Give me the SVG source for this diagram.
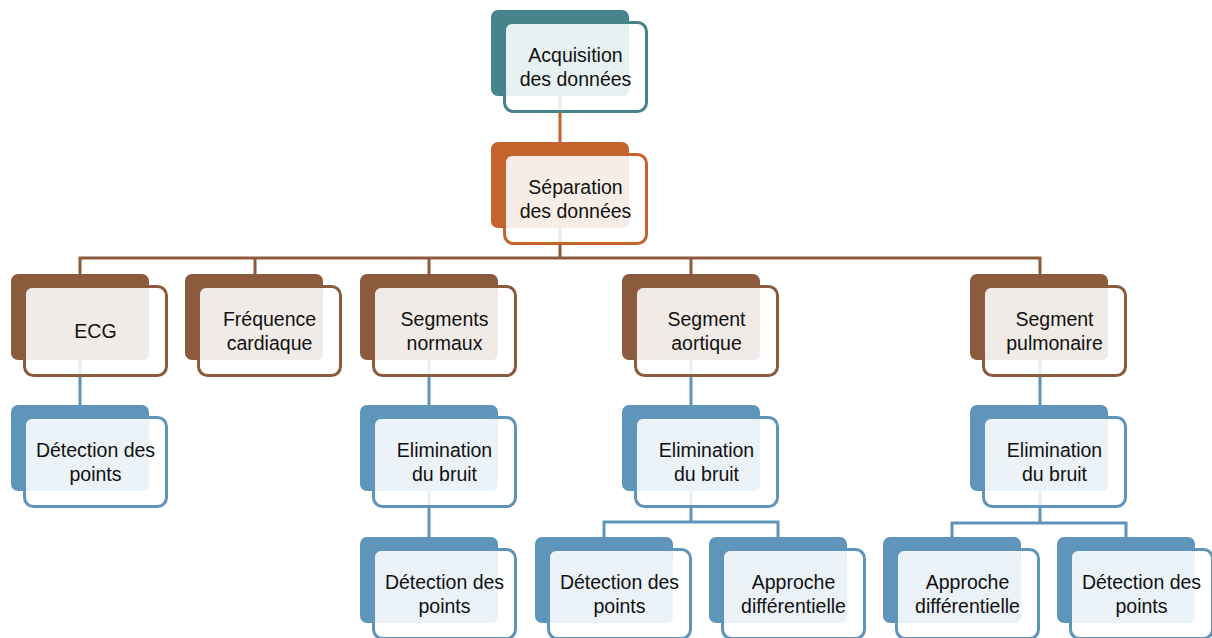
<svg xmlns="http://www.w3.org/2000/svg" width="1212" height="638" viewBox="0 0 1212 638">
  <style>
    .back { stroke: none; }
    .frame { fill: #ffffff; fill-opacity: 0.85; stroke-width: 3; }
    .face { stroke: none; fill-opacity: 0.92; }
    .lbl { font-family: "Liberation Sans", Arial, sans-serif; font-size: 19.5px; fill: #111111; text-anchor: middle; }
    .teal .back { fill: #47838A; } .teal .frame { stroke: #47838A; } .teal .face { fill: #E8F1F1; }
    .orange .back { fill: #C5632D; } .orange .frame { stroke: #C5632D; } .orange .face { fill: #F6ECE6; }
    .brown .back { fill: #8C5B3D; } .brown .frame { stroke: #8C5B3D; } .brown .face { fill: #F1EBE8; }
    .blue .back { fill: #5F95BA; } .blue .frame { stroke: #5F95BA; } .blue .face { fill: #ECF2F7; }
    .conn { fill: none; stroke-width: 3; }
  </style>

  <!-- connectors -->
  <g id="connectors">
    <path class="conn" stroke="#C5632D" d="M560 96 V142"/>
    <path class="conn" stroke="#8C5B3D" d="M560 227 V258 M80 274 V258 H1040 V274 M255 258 V274 M429 258 V274 M691 258 V274"/>
    <path class="conn" stroke="#5F95BA" d="M80 359 V405 M429 359 V405 M691 359 V405 M1040 359 V405"/>
    <path class="conn" stroke="#5F95BA" d="M429 491 V537 M691 491 V522 M604 537 V522 H778 V537 M1040 491 V523 M952 537 V523 H1126 V537"/>
  </g>

  <!-- root -->
  <g id="acquisition" class="teal" transform="translate(491,10)">
    <rect class="back" width="138" height="86" rx="7"/>
    <rect class="frame" x="13.5" y="12.5" width="142" height="89" rx="9"/>
    <rect class="face" x="15" y="14" width="123" height="72" rx="6"/>
    <text class="lbl" x="84.5" y="51.5">Acquisition</text>
    <text class="lbl" x="84.5" y="75.5">des données</text>
  </g>

  <g id="separation" class="orange" transform="translate(491,142)">
    <rect class="back" width="138" height="86" rx="7"/>
    <rect class="frame" x="13.5" y="12.5" width="142" height="89" rx="9"/>
    <rect class="face" x="15" y="14" width="123" height="72" rx="6"/>
    <text class="lbl" x="84.5" y="51.5">Séparation</text>
    <text class="lbl" x="84.5" y="75.5">des données</text>
  </g>

  <!-- second level -->
  <g id="ecg" class="brown" transform="translate(11,274)">
    <rect class="back" width="138" height="86" rx="7"/>
    <rect class="frame" x="13.5" y="12.5" width="142" height="89" rx="9"/>
    <rect class="face" x="15" y="14" width="123" height="72" rx="6"/>
    <text class="lbl" x="84.5" y="63.5">ECG</text>
  </g>

  <g id="frequence" class="brown" transform="translate(185,274)">
    <rect class="back" width="138" height="86" rx="7"/>
    <rect class="frame" x="13.5" y="12.5" width="142" height="89" rx="9"/>
    <rect class="face" x="15" y="14" width="123" height="72" rx="6"/>
    <text class="lbl" x="84.5" y="51.5">Fréquence</text>
    <text class="lbl" x="84.5" y="75.5">cardiaque</text>
  </g>

  <g id="segments-normaux" class="brown" transform="translate(360,274)">
    <rect class="back" width="138" height="86" rx="7"/>
    <rect class="frame" x="13.5" y="12.5" width="142" height="89" rx="9"/>
    <rect class="face" x="15" y="14" width="123" height="72" rx="6"/>
    <text class="lbl" x="84.5" y="51.5">Segments</text>
    <text class="lbl" x="84.5" y="75.5">normaux</text>
  </g>

  <g id="segment-aortique" class="brown" transform="translate(622,274)">
    <rect class="back" width="138" height="86" rx="7"/>
    <rect class="frame" x="13.5" y="12.5" width="142" height="89" rx="9"/>
    <rect class="face" x="15" y="14" width="123" height="72" rx="6"/>
    <text class="lbl" x="84.5" y="51.5">Segment</text>
    <text class="lbl" x="84.5" y="75.5">aortique</text>
  </g>

  <g id="segment-pulmonaire" class="brown" transform="translate(970,274)">
    <rect class="back" width="138" height="86" rx="7"/>
    <rect class="frame" x="13.5" y="12.5" width="142" height="89" rx="9"/>
    <rect class="face" x="15" y="14" width="123" height="72" rx="6"/>
    <text class="lbl" x="84.5" y="51.5">Segment</text>
    <text class="lbl" x="84.5" y="75.5">pulmonaire</text>
  </g>

  <!-- third level -->
  <g id="ecg-detection" class="blue" transform="translate(11,405)">
    <rect class="back" width="138" height="86" rx="7"/>
    <rect class="frame" x="13.5" y="12.5" width="142" height="89" rx="9"/>
    <rect class="face" x="15" y="14" width="123" height="72" rx="6"/>
    <text class="lbl" x="84.5" y="51.5">Détection des</text>
    <text class="lbl" x="84.5" y="75.5">points</text>
  </g>

  <g id="normaux-elimination" class="blue" transform="translate(360,405)">
    <rect class="back" width="138" height="86" rx="7"/>
    <rect class="frame" x="13.5" y="12.5" width="142" height="89" rx="9"/>
    <rect class="face" x="15" y="14" width="123" height="72" rx="6"/>
    <text class="lbl" x="84.5" y="51.5">Elimination</text>
    <text class="lbl" x="84.5" y="75.5">du bruit</text>
  </g>

  <g id="aortique-elimination" class="blue" transform="translate(622,405)">
    <rect class="back" width="138" height="86" rx="7"/>
    <rect class="frame" x="13.5" y="12.5" width="142" height="89" rx="9"/>
    <rect class="face" x="15" y="14" width="123" height="72" rx="6"/>
    <text class="lbl" x="84.5" y="51.5">Elimination</text>
    <text class="lbl" x="84.5" y="75.5">du bruit</text>
  </g>

  <g id="pulmonaire-elimination" class="blue" transform="translate(970,405)">
    <rect class="back" width="138" height="86" rx="7"/>
    <rect class="frame" x="13.5" y="12.5" width="142" height="89" rx="9"/>
    <rect class="face" x="15" y="14" width="123" height="72" rx="6"/>
    <text class="lbl" x="84.5" y="51.5">Elimination</text>
    <text class="lbl" x="84.5" y="75.5">du bruit</text>
  </g>

  <!-- fourth level -->
  <g id="normaux-detection" class="blue" transform="translate(360,537)">
    <rect class="back" width="138" height="86" rx="7"/>
    <rect class="frame" x="13.5" y="12.5" width="142" height="89" rx="9"/>
    <rect class="face" x="15" y="14" width="123" height="72" rx="6"/>
    <text class="lbl" x="84.5" y="51.5">Détection des</text>
    <text class="lbl" x="84.5" y="75.5">points</text>
  </g>

  <g id="aortique-detection" class="blue" transform="translate(535,537)">
    <rect class="back" width="138" height="86" rx="7"/>
    <rect class="frame" x="13.5" y="12.5" width="142" height="89" rx="9"/>
    <rect class="face" x="15" y="14" width="123" height="72" rx="6"/>
    <text class="lbl" x="84.5" y="51.5">Détection des</text>
    <text class="lbl" x="84.5" y="75.5">points</text>
  </g>

  <g id="aortique-approche" class="blue" transform="translate(709,537)">
    <rect class="back" width="138" height="86" rx="7"/>
    <rect class="frame" x="13.5" y="12.5" width="142" height="89" rx="9"/>
    <rect class="face" x="15" y="14" width="123" height="72" rx="6"/>
    <text class="lbl" x="84.5" y="51.5">Approche</text>
    <text class="lbl" x="84.5" y="75.5">différentielle</text>
  </g>

  <g id="pulmonaire-approche" class="blue" transform="translate(883,537)">
    <rect class="back" width="138" height="86" rx="7"/>
    <rect class="frame" x="13.5" y="12.5" width="142" height="89" rx="9"/>
    <rect class="face" x="15" y="14" width="123" height="72" rx="6"/>
    <text class="lbl" x="84.5" y="51.5">Approche</text>
    <text class="lbl" x="84.5" y="75.5">différentielle</text>
  </g>

  <g id="pulmonaire-detection" class="blue" transform="translate(1057,537)">
    <rect class="back" width="138" height="86" rx="7"/>
    <rect class="frame" x="13.5" y="12.5" width="142" height="89" rx="9"/>
    <rect class="face" x="15" y="14" width="123" height="72" rx="6"/>
    <text class="lbl" x="84.5" y="51.5">Détection des</text>
    <text class="lbl" x="84.5" y="75.5">points</text>
  </g>
</svg>
